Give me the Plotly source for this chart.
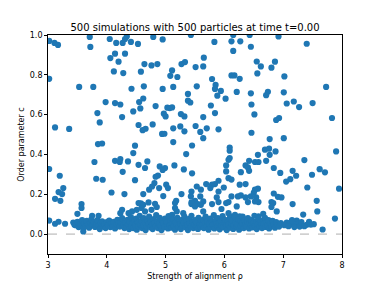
import plotly.graph_objects as go

# Upper (spread) points: strength of alignment rho and order parameter c
rho_upper = [
    3.02, 3.11, 3.17, 3.71, 3.72, 4.05, 4.16, 4.27, 4.31, 4.14, 4.06, 4.20, 4.31, 4.12, 4.28,
    3.02, 3.53, 3.77, 3.98, 4.14, 4.23, 3.84, 3.88, 4.26, 3.12, 3.36,
    3.85, 3.92, 3.79, 4.14, 4.23, 4.22, 3.02, 4.27, 3.20, 3.82, 3.93, 3.26, 3.18, 3.24, 4.08,
    4.30, 3.12, 3.21, 3.57,
    3.02, 3.12, 3.18, 3.29, 3.57, 3.50, 3.45, 3.75, 3.86, 3.60, 4.23, 4.26,
    4.34, 4.41, 4.53, 4.79, 4.95, 5.43, 5.65, 4.64, 4.76, 4.86, 4.58, 5.11, 5.08, 5.20, 5.27,
    5.33, 5.51, 5.64, 4.42, 4.63, 4.95, 5.13, 5.53, 5.38, 4.62, 4.55, 4.57, 4.45, 4.83, 5.03,
    5.11, 5.07, 5.38, 5.42, 4.97, 5.00, 5.26, 5.32, 5.64, 4.54, 4.66, 4.78, 5.13, 5.25, 5.51,
    4.61, 5.32, 5.59, 5.64, 4.94, 4.98, 5.13, 5.45, 4.48, 4.45, 5.35, 4.36, 4.54, 4.69, 4.65,
    4.90, 4.99, 4.95, 5.15, 5.31, 5.45, 4.87, 4.83, 4.48, 4.81, 4.77, 4.72, 4.89, 5.01, 5.04,
    4.62, 4.96, 4.58, 5.18, 5.27, 5.53, 5.44, 5.60, 5.43, 5.59, 5.50, 5.64, 5.44, 5.55,
    4.54, 4.62, 4.71, 4.82, 4.59, 4.51, 4.43, 4.37, 4.65, 4.76, 4.85, 5.16, 5.16, 5.19, 5.11,
    5.30, 5.44, 5.50, 5.60, 5.64,
    5.90, 6.46, 6.77, 7.01, 6.09, 6.09, 6.69, 6.76, 6.87, 6.57, 6.77, 6.09, 6.07, 6.42, 6.52,
    6.58, 6.71, 6.36, 6.40, 6.03, 6.84, 6.95, 6.03, 6.28, 6.42, 6.07, 6.12, 5.90, 5.84, 5.79,
    5.69, 6.26, 6.36, 5.99, 5.76, 5.90, 6.52, 6.57, 6.50, 6.84, 5.87, 6.12, 6.23, 6.28, 6.36,
    6.45, 6.54, 6.91, 6.97, 5.90, 6.07, 6.40, 6.58, 6.80, 5.79,
    6.15, 6.43, 6.92, 5.83, 6.12, 6.27, 6.45, 6.15, 6.55, 6.62, 6.86, 6.80, 6.56, 7.02, 6.12,
    6.17, 5.79, 6.26, 5.85, 5.84, 5.94, 5.88, 6.02, 6.21, 6.45, 6.74, 6.71, 7.01, 5.77, 6.46,
    5.84, 6.51, 6.88, 6.93, 5.70,
    7.40, 7.73, 7.06, 7.18, 7.27, 7.50, 7.83,
    7.90, 7.36, 7.16, 7.62, 7.71, 7.49, 7.22, 7.12, 7.05, 7.41, 7.95, 7.57, 7.16,
    7.58, 7.34, 7.88, 7.67, 7.06, 7.13, 7.17, 7.23, 7.26, 7.19, 7.28, 7.40, 7.47,
    6.03, 6.21, 6.52, 6.83, 6.80, 6.89, 5.95, 6.07, 6.10, 6.18, 6.26, 6.58, 6.66,
]
c_upper = [
    0.970, 0.960, 0.950, 0.990, 0.940, 0.980, 0.960, 0.960, 0.980, 0.906, 0.884, 0.866, 0.906, 0.817, 0.809,
    0.780, 0.739, 0.739, 0.663, 0.658, 0.651, 0.608, 0.561, 0.588, 0.536, 0.528,
    0.452, 0.455, 0.362, 0.368, 0.377, 0.362, 0.327, 0.313, 0.293, 0.278, 0.273, 0.231, 0.211, 0.201, 0.209,
    0.201, 0.177, 0.167, 0.151,
    0.068, 0.052, 0.062, 0.052, 0.131, 0.102, 0.047, 0.092, 0.092, 0.013, 0.105, 0.122,
    0.993, 0.965, 0.955, 0.990, 0.978, 1.000, 0.886, 0.854, 0.847, 0.854, 0.816, 0.822, 0.795, 0.789, 0.854,
    0.864, 0.839, 0.842, 0.730, 0.742, 0.729, 0.739, 0.742, 0.704, 0.681, 0.663, 0.631, 0.616, 0.643, 0.635,
    0.636, 0.633, 0.670, 0.661, 0.605, 0.591, 0.603, 0.591, 0.588, 0.548, 0.529, 0.551, 0.531, 0.541, 0.543,
    0.522, 0.516, 0.513, 0.482, 0.503, 0.504, 0.462, 0.445, 0.444, 0.407, 0.402, 0.365, 0.348, 0.365, 0.332,
    0.340, 0.332, 0.322, 0.345, 0.325, 0.305, 0.294, 0.288, 0.271, 0.256, 0.239, 0.223, 0.231, 0.248, 0.231,
    0.201, 0.191, 0.154, 0.167, 0.201, 0.239, 0.214, 0.223, 0.189, 0.189, 0.167, 0.164, 0.151, 0.151,
    0.156, 0.147, 0.159, 0.152, 0.131, 0.122, 0.114, 0.105, 0.114, 0.122, 0.136, 0.156, 0.131, 0.114, 0.097,
    0.105, 0.159, 0.139, 0.147, 0.114,
    0.526, 0.509, 0.477, 0.482, 0.435, 0.419, 0.424, 0.429, 0.415, 0.398, 0.398, 0.382, 0.373, 0.368, 0.362,
    0.362, 0.368, 0.345, 0.335, 0.345, 0.332, 0.307, 0.315, 0.311, 0.318, 0.281, 0.274, 0.268, 0.251, 0.248,
    0.251, 0.248, 0.251, 0.234, 0.231, 0.214, 0.223, 0.228, 0.208, 0.204, 0.184, 0.189, 0.189, 0.194, 0.184,
    0.189, 0.184, 0.187, 0.184, 0.161, 0.161, 0.161, 0.161, 0.161, 0.151,
    1.000, 1.000, 0.993, 0.965, 0.968, 0.968, 0.941, 0.920, 0.867, 0.842, 0.866, 0.836, 0.807, 0.792, 0.797,
    0.797, 0.779, 0.780, 0.749, 0.729, 0.719, 0.695, 0.680, 0.714, 0.707, 0.715, 0.698, 0.712, 0.646, 0.651,
    0.608, 0.601, 0.573, 0.583, 0.531,
    0.956, 0.739, 0.656, 0.666, 0.638, 0.658, 0.583,
    0.415, 0.372, 0.318, 0.326, 0.310, 0.298, 0.293, 0.276, 0.264, 0.234, 0.228, 0.167, 0.151,
    0.114, 0.098, 0.078, 0.023, 0.058, 0.058, 0.047, 0.068, 0.052, 0.035, 0.038, 0.047, 0.048,
    0.156, 0.139, 0.164, 0.156, 0.136, 0.114, 0.126, 0.105, 0.089, 0.097, 0.089, 0.089, 0.102,
]

# Dense band of disordered runs near c = 0
rho_band = [
    3.43, 3.47, 3.50, 3.52, 3.55, 3.58, 3.60, 3.62, 3.64, 3.66, 3.68, 3.70, 3.72, 3.74, 3.76,
    3.78, 3.80, 3.82, 3.84, 3.86, 3.88, 3.90, 3.92, 3.94, 3.96, 3.98, 4.00, 4.02, 4.04, 4.06,
    4.08, 4.10, 4.12, 4.14, 4.16, 4.18, 4.20, 4.22, 4.24, 4.26, 4.28, 4.30,
    4.32, 4.33, 4.35, 4.36, 4.38, 4.39, 4.41, 4.42, 4.44, 4.45, 4.47, 4.48, 4.50, 4.51, 4.53,
    4.54, 4.56, 4.57, 4.59, 4.60, 4.62, 4.63, 4.65, 4.66, 4.68, 4.69, 4.71, 4.72, 4.74, 4.75,
    4.77, 4.78, 4.80, 4.81, 4.83, 4.84, 4.86, 4.87, 4.89, 4.90, 4.92, 4.93, 4.95, 4.96, 4.98,
    4.99, 5.01, 5.02, 5.04, 5.05, 5.07, 5.08, 5.10, 5.11, 5.13, 5.14, 5.16, 5.17, 5.19, 5.20,
    5.22, 5.23, 5.25, 5.26, 5.28, 5.29, 5.31, 5.32, 5.34, 5.35, 5.37, 5.38, 5.40, 5.41, 5.43,
    5.44, 5.46, 5.47, 5.49, 5.50, 5.52, 5.53, 5.55, 5.56, 5.58, 5.59, 5.61,
    5.62, 5.64, 5.65, 5.67, 5.68, 5.70, 5.71, 5.73, 5.74, 5.76, 5.77, 5.79, 5.80, 5.82, 5.83,
    5.85, 5.86, 5.88, 5.89, 5.91, 5.92, 5.94, 5.95, 5.97, 5.98, 6.00, 6.01, 6.03, 6.04, 6.06,
    6.07, 6.09, 6.10, 6.12, 6.13, 6.15, 6.16, 6.18, 6.19, 6.21, 6.22, 6.24, 6.25, 6.27, 6.28,
    6.30, 6.31, 6.33, 6.34, 6.36, 6.37, 6.39, 6.40, 6.42, 6.43, 6.45, 6.46, 6.48, 6.49, 6.51,
    6.52, 6.54, 6.55, 6.57, 6.58, 6.60, 6.61, 6.63, 6.64, 6.66, 6.67, 6.69, 6.70, 6.72, 6.73,
    6.75, 6.76, 6.78, 6.80, 6.82, 6.84, 6.86, 6.88, 6.90, 6.93, 6.96,
    7.02, 7.09, 7.15, 7.31, 7.36, 7.44, 7.52,
]
c_band = [
    0.058, 0.045, 0.062, 0.035, 0.050, 0.070, 0.028, 0.055, 0.040, 0.066, 0.048, 0.032, 0.058, 0.075, 0.044,
    0.060, 0.036, 0.052, 0.070, 0.042, 0.025, 0.056, 0.064, 0.038, 0.050, 0.030, 0.060, 0.045, 0.068, 0.035,
    0.052, 0.040, 0.062, 0.028, 0.048, 0.072, 0.055, 0.038, 0.060, 0.080, 0.045, 0.030,
    0.058, 0.036, 0.072, 0.048, 0.025, 0.062, 0.085, 0.040, 0.055, 0.030, 0.068, 0.046, 0.078, 0.022, 0.058,
    0.038, 0.092, 0.050, 0.066, 0.030, 0.045, 0.080, 0.058, 0.020, 0.038, 0.070, 0.052, 0.088, 0.034, 0.062,
    0.046, 0.025, 0.075, 0.055, 0.040, 0.096, 0.064, 0.030, 0.050, 0.082, 0.042, 0.020, 0.068, 0.055, 0.035,
    0.078, 0.048, 0.062, 0.028, 0.090, 0.044, 0.066, 0.032, 0.056, 0.075, 0.040, 0.022, 0.060, 0.048, 0.082,
    0.036, 0.068, 0.052, 0.025, 0.072, 0.044, 0.058, 0.088, 0.034, 0.064, 0.046, 0.020, 0.076, 0.054, 0.038,
    0.092, 0.062, 0.030, 0.048, 0.070, 0.040, 0.058, 0.026, 0.082, 0.050, 0.036, 0.066,
    0.045, 0.072, 0.030, 0.058, 0.088, 0.040, 0.064, 0.022, 0.052, 0.078, 0.036, 0.060, 0.046, 0.095, 0.028,
    0.068, 0.050, 0.038, 0.080, 0.056, 0.024, 0.066, 0.044, 0.090, 0.034, 0.058, 0.072, 0.040, 0.020, 0.062,
    0.048, 0.078, 0.032, 0.055, 0.068, 0.026, 0.045, 0.084, 0.060, 0.036, 0.050, 0.072, 0.022, 0.064, 0.042,
    0.056, 0.088, 0.030, 0.070, 0.048, 0.038, 0.062, 0.080, 0.028, 0.054, 0.044, 0.070, 0.034, 0.058, 0.092,
    0.040, 0.064, 0.025, 0.050, 0.076, 0.038, 0.060, 0.046, 0.030, 0.068, 0.052, 0.082, 0.036, 0.058, 0.044,
    0.070, 0.028, 0.054, 0.040, 0.066, 0.048, 0.032, 0.060, 0.045, 0.038, 0.055,
    0.045, 0.040, 0.070, 0.060, 0.040, 0.062, 0.050,
]

rho = rho_upper + rho_band
c = c_upper + c_band

x_ticks = [3, 4, 5, 6, 7, 8]
y_ticks = [0.0, 0.2, 0.4, 0.6, 0.8, 1.0]
y_tick_labels = ["0.0", "0.2", "0.4", "0.6", "0.8", "1.0"]

fig = go.Figure()
fig.add_trace(go.Scatter(
    x=rho, y=c, mode="markers",
    marker=dict(color="#1f77b4", size=6.2, line=dict(width=0)),
    showlegend=False, hoverinfo="skip",
))

fig.add_shape(type="line", xref="paper", yref="y", x0=0, x1=1, y0=0, y1=0,
              line=dict(color="#999999", width=0.8, dash="dash"), layer="below")

font = "DejaVu Sans"
fig.update_layout(
    width=381, height=286,
    margin=dict(l=39.7, r=46.7, t=26.5, b=39.8, autoexpand=False),
    paper_bgcolor="white", plot_bgcolor="white",
    font=dict(family=font, size=8, color="black"),
    title=dict(text="500 simulations with 500 particles at time t=0.00",
               x=0.5, xref="paper", xanchor="center", y=1, yref="paper",
               yanchor="bottom", pad=dict(b=4), automargin=False,
               font=dict(size=10, color="black")),
)
fig.update_xaxes(
    range=[3, 8], tickvals=x_ticks, ticktext=[str(v) for v in x_ticks],
    showgrid=False, zeroline=False, showline=True, linecolor="black", linewidth=0.8,
    mirror=True, ticks="outside", ticklen=3, tickwidth=0.8, tickcolor="black",
    tickfont=dict(size=8), automargin=False,
    title=dict(text="Strength of alignment ρ", font=dict(size=8), standoff=4),
)
fig.update_yaxes(
    range=[-0.1, 1.0], tickvals=y_ticks, ticktext=y_tick_labels,
    showgrid=False, zeroline=False, showline=True, linecolor="black", linewidth=0.8,
    mirror=True, ticks="outside", ticklen=3, tickwidth=0.8, tickcolor="black",
    tickfont=dict(size=8), automargin=False,
    title=dict(text="Order parameter c", font=dict(size=8), standoff=3),
)

fig.write_html("out.html")
